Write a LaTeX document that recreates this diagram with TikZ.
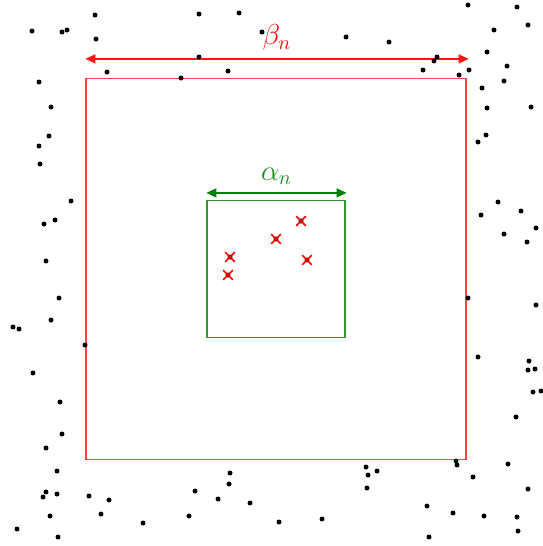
\documentclass[tikz,border=0pt]{standalone}
\usetikzlibrary{arrows.meta,positioning,shapes.misc}
\definecolor{bred}{RGB}{255,20,20}
\definecolor{agreen}{RGB}{0,128,0}

\begin{document}
\begin{tikzpicture}[x=0.5pt, y=-0.5pt,
    dot/.style={circle, fill=black, inner sep=0pt, minimum size=2.5pt},
    crossmark/.style={cross out, draw=red, thick, inner sep=0pt, minimum size=4pt},
    outerbox/.style={rectangle, draw=red!75, line width=0.6pt, minimum width=190pt, minimum height=190.5pt},
    innerbox/.style={rectangle, draw=agreen!80, line width=0.6pt, minimum width=69pt, minimum height=68.5pt},
    span/.style={{Triangle[length=5pt,width=4.5pt]}-{Triangle[length=5pt,width=4.5pt]}, line width=0.7pt}
]
    \useasboundingbox (0,0) rectangle (542,546);

    % Nested squares
    \node[outerbox] (outer) at (276,269) {};
    \node[innerbox] (inner) at (276,269) {};

    % Width arrows
    \draw[span, bred] ([yshift=9.5pt]outer.north west) -- ([xshift=1pt,yshift=9.5pt]outer.north east)
        node[midway, above=0.5pt, font=\Large, text=red] (beta) {$\beta_n$};
    \draw[span, agreen] ([yshift=3.5pt]inner.north west) -- ([xshift=0.5pt,yshift=3.5pt]inner.north east)
        node[midway, above=0.5pt, font=\Large, text=agreen!90] (alpha) {$\alpha_n$};

    % Scattered points
    \foreach \px/\py [count=\i] in {
        95/15, 199/14, 239/13, 32/31, 62/32, 67/30, 96/39, 262/32, 199/57, 107/72,
        228/71, 181/78, 39/82, 51/107, 49/136, 39/146, 40/164,
        346/37, 389/42, 468/5, 517/7, 494/30, 528/25, 437/57, 434/61, 487/52,
        423/70, 469/70, 459/75, 507/66, 504/81, 482/88, 487/108, 531/107, 486/135, 478/142,
        71/201, 55/220, 44/224, 46/261, 59/298, 51/320, 13/327, 19/329, 85/345,
        498/202, 521/211, 481/215, 536/228, 504/234, 527/242, 468/298, 536/305, 478/357, 529/361,
        33/373, 60/402, 62/434, 46/448, 57/471, 46/492, 43/497, 57/494, 89/496, 109/500,
        101/514, 50/516, 17/529, 58/537, 143/523, 189/516, 195/491, 230/473, 229/484, 218/499, 250/503,
        528/370, 535/369, 533/392, 541/391, 516/417, 456/461, 457/465, 366/467, 377/471, 368/475,
        367/488, 473/477, 508/464, 528/489, 427/506, 453/513, 484/516, 517/517, 518/531, 279/522,
        322/519, 429/537}
        \node[dot] (p\i) at (\px,\py) {};

    % Points inside the small square
    \foreach \px/\py [count=\i] in {301/221, 276/239, 230/257, 307/260, 228/275} {
        \node[dot] (q\i) at (\px,\py) {};
        \node[crossmark] (x\i) at (q\i) {};
    }
\end{tikzpicture}
\end{document}
